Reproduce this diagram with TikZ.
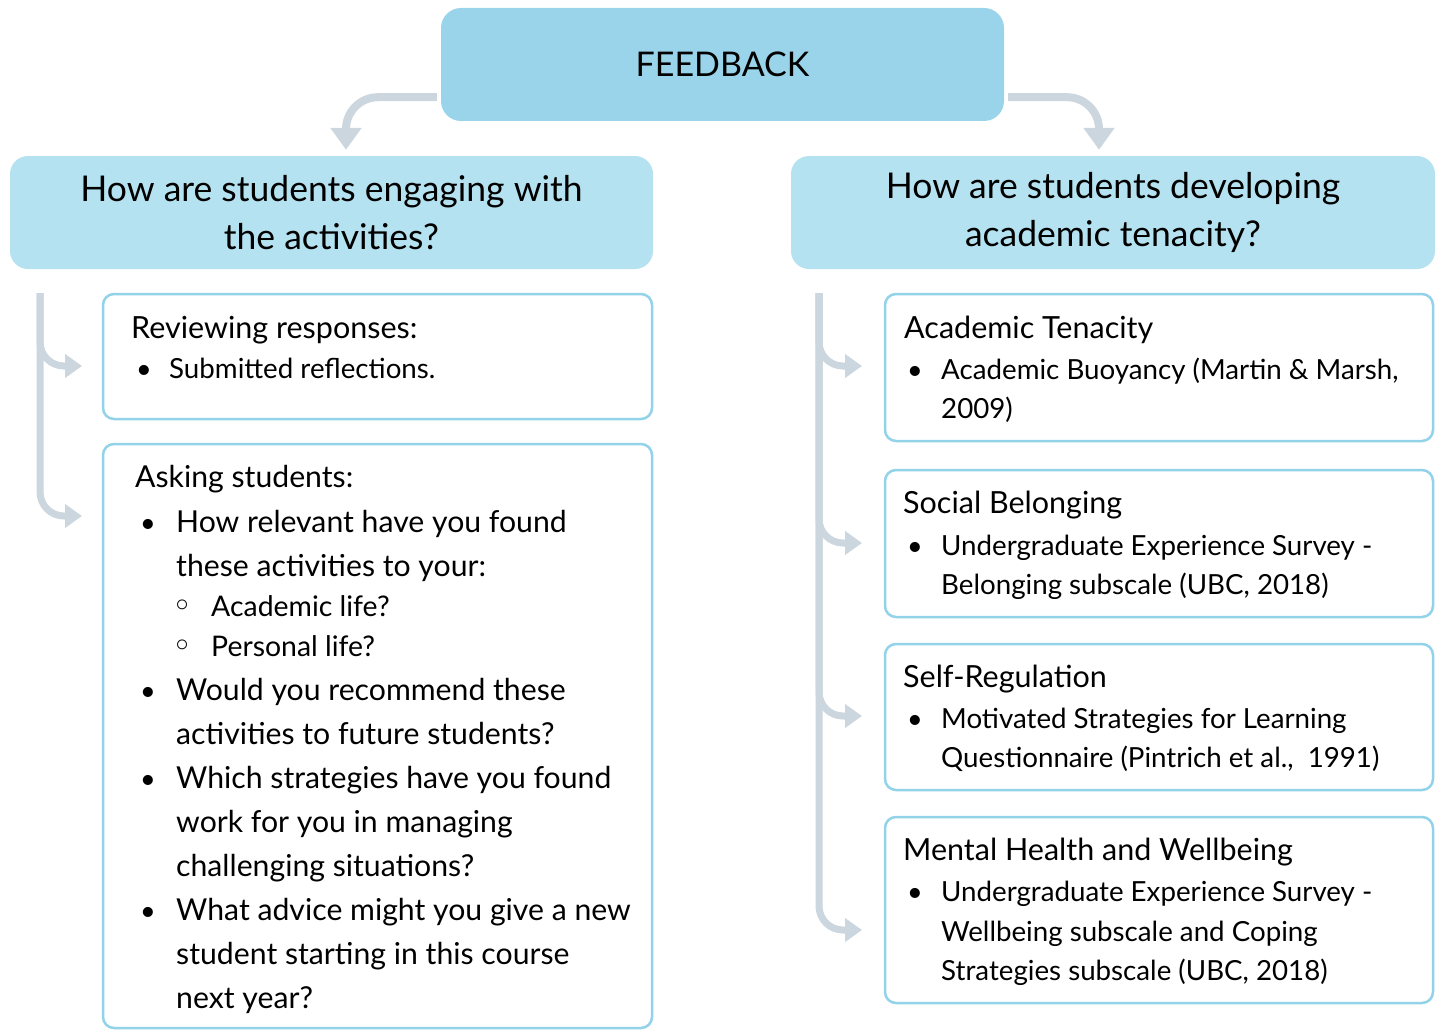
\documentclass[tikz,border=0pt]{standalone}
\usepackage{fontspec}
\setmainfont{Lato}
\newfontfamily\dejavu{DejaVu Sans}
\usetikzlibrary{arrows.meta}
\definecolor{fbblue}{HTML}{99D4EA}
\definecolor{hdblue}{HTML}{B5E2F0}
\definecolor{bdblue}{HTML}{93D3EA}
\definecolor{argray}{HTML}{CBD6DE}
\tikzset{
  fbbox/.style={fill=fbblue, draw=none, rounded corners=20pt, inner sep=0pt, font=\fontsize{34}{40}\selectfont},
  hdbox/.style={fill=hdblue, draw=none, rounded corners=18pt, inner sep=0pt, align=center, font=\fontsize{35.5}{48}\selectfont},
  itbox/.style={draw=bdblue, line width=2.5pt, fill=white, rounded corners=11pt, inner sep=0pt},
  txt/.style={anchor=base west, inner sep=0pt, font=\fontsize{27.7}{33}\selectfont},
  txth/.style={anchor=base west, inner sep=0pt, font=\fontsize{30.5}{36}\selectfont},
  txtb/.style={anchor=base west, inner sep=0pt, font=\fontsize{30.2}{36}\selectfont},
  txts/.style={anchor=base west, inner sep=0pt, font=\fontsize{28.4}{34}\selectfont},
  bul/.style={anchor=base, inner sep=0pt, font=\fontsize{27}{32}\selectfont},
  sbul/.style={anchor=base, inner sep=0pt, font=\dejavu\fontsize{34}{40}\selectfont},
  bigarrow/.style={draw=argray, line width=8pt, rounded corners=32pt, -{Triangle[width=30pt,length=22pt]}},
  treearrow/.style={draw=argray, line width=7pt, rounded corners=24pt, -{Triangle[width=23pt,length=17pt]}}
}
\begin{document}
\begin{tikzpicture}[x=1pt,y=-1pt]
\useasboundingbox (0,0) rectangle (1437,1030);

% main boxes
\node[fbbox, minimum width=563pt, minimum height=113pt] (fb) at (722.5,64.5) {FEEDBACK};
\node[hdbox, minimum width=643pt, minimum height=113pt] (hl) at (331.5,212.5) {How are students engaging with\\the activities?};
\node[hdbox, minimum width=644pt, minimum height=113pt] (hr) at (1113,212.5) {How are students developing\\academic tenacity?};

% top arrows
\draw[bigarrow] ([xshift=-4pt,yshift=24pt]fb.south west) -| ([xshift=14.5pt,yshift=6pt]hl.north);
\draw[bigarrow] ([xshift=4pt,yshift=24pt]fb.south east) -| ([xshift=-14pt,yshift=6pt]hr.north);

% left boxes
\node[itbox, minimum width=549pt, minimum height=125pt] (b1) at (377.5,356.5) {};
\node[itbox, minimum width=549pt, minimum height=584pt] (b2) at (377.5,736) {};

% right boxes
\node[itbox, minimum width=548pt, minimum height=147pt] (ra) at (1159,367.5) {};
\node[itbox, minimum width=548pt, minimum height=147pt] (rb) at (1159,543.5) {};
\node[itbox, minimum width=548pt, minimum height=146pt] (rc) at (1159,717) {};
\node[itbox, minimum width=548pt, minimum height=186pt] (rd) at (1159,910) {};

% tree arrows left
\coordinate (lt) at (40,293);
\coordinate (l1) at (82,366);
\coordinate (l2) at (82,516);
\draw[treearrow] (lt) |- (l1);
\draw[treearrow] (lt) |- (l2);

% tree arrows right
\coordinate (rt) at (819,293);
\coordinate (r1) at (862,366);
\coordinate (r2) at (862,543);
\coordinate (r3) at (862,716);
\coordinate (r4) at (862,930);
\draw[treearrow] (rt) |- (r1);
\draw[treearrow] (rt) |- (r2);
\draw[treearrow] (rt) |- (r3);
\draw[treearrow] (rt) |- (r4);

% left box 1 text
\node[txth] (t11) at (131,338) {Reviewing responses:};
\node[bul] (u11) at (144,378) {•};
\node[txt] (t12) at (169,378) {Submitted reflections.};

% left box 2 text
\node[txtb] (t21) at (135,487) {Asking students:};
\node[bul] (u21) at (148,532) {•};
\node[txtb] (t22) at (176,532) {How relevant have you found};
\node[txtb] (t23) at (176,576) {these activities to your:};
\node[sbul] (s21) at (183,617) {◦};
\node[txts] (t24) at (211,616) {Academic life?};
\node[sbul] (s22) at (183,657) {◦};
\node[txts] (t25) at (211,656) {Personal life?};
\node[bul] (u22) at (148,700) {•};
\node[txtb] (t26) at (176,700) {Would you recommend these};
\node[txtb] (t27) at (176,744) {activities to future students?};
\node[bul] (u23) at (148,788) {•};
\node[txtb] (t28) at (176,788) {Which strategies have you found};
\node[txtb] (t29) at (176,832) {work for you in managing};
\node[txtb] (t2a) at (176,876) {challenging situations?};
\node[bul] (u24) at (148,920) {•};
\node[txtb] (t2b) at (176,920) {What advice might you give a new};
\node[txtb] (t2c) at (176,964) {student starting in this course};
\node[txtb] (t2d) at (176,1008) {next year?};

% right box A
\node[txth] (ta1) at (904,338) {Academic Tenacity};
\node[bul] (ua1) at (915,379) {•};
\node[txt] (ta2) at (941,379) {Academic Buoyancy (Martin \& Marsh,};
\node[txt] (ta3) at (941,418) {2009)};

% right box B
\node[txth] (tb1) at (903,513) {Social Belonging};
\node[bul] (ub1) at (915,555) {•};
\node[txt] (tb2) at (941,555) {Undergraduate Experience Survey -};
\node[txt] (tb3) at (941,594) {Belonging subscale (UBC, 2018)};

% right box C
\node[txth] (tc1) at (903,687) {Self-Regulation};
\node[bul] (uc1) at (915,728) {•};
\node[txt] (tc2) at (941,728) {Motivated Strategies for Learning};
\node[txt] (tc3) at (941,767) {Questionnaire (Pintrich et al.,\ \ 1991)};

% right box D
\node[txth] (td1) at (903,860) {Mental Health and Wellbeing};
\node[bul] (ud1) at (915,901) {•};
\node[txt] (td2) at (941,901) {Undergraduate Experience Survey -};
\node[txt] (td3) at (941,941) {Wellbeing subscale and Coping};
\node[txt] (td4) at (941,980) {Strategies subscale (UBC, 2018)};
\end{tikzpicture}
\end{document}
